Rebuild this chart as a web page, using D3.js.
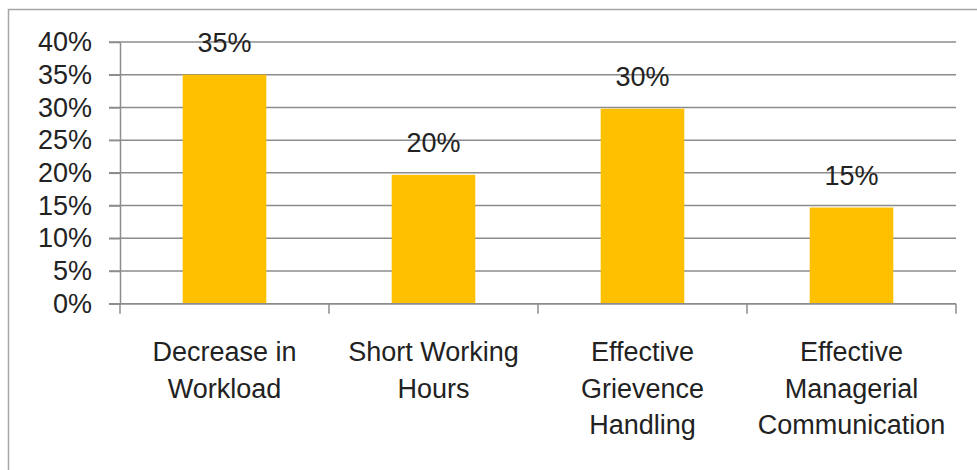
<!DOCTYPE html>
<html>
<head>
<meta charset="utf-8">
<script src="https://cdn.jsdelivr.net/npm/d3@7"></script>
<style>
  body { margin: 0; background: #fff; }
  svg text { font-family: "Liberation Sans", Arial, sans-serif; fill: #222; }
</style>
</head>
<body>
<script>
// chart data
let categories = [
  ['Decrease in', 'Workload'],
  ['Short Working', 'Hours'],
  ['Effective', 'Grievence', 'Handling'],
  ['Effective', 'Managerial', 'Communication']
];
let values = [0.35, 0.197, 0.298, 0.147];
let yTicks = [0, 0.05, 0.10, 0.15, 0.20, 0.25, 0.30, 0.35, 0.40];

let width = 977;
let height = 470;
let plotLeft = 120, plotRight = 956, plotTop = 42, plotBottom = 303.7;
let fontSize = 27;

let svg = d3.select('body').append('svg')
  .attr('width', width)
  .attr('height', height);

// outer frame
svg.append('rect')
  .attr('x', 8.5).attr('y', 9.5)
  .attr('width', width + 20).attr('height', height + 20)
  .attr('fill', 'none')
  .attr('stroke', '#a6a6a6')
  .attr('stroke-width', 1.5);

let keys = d3.range(categories.length);

let xScale = d3.scaleBand()
  .domain(keys)
  .range([plotLeft, plotRight])
  .paddingInner(0.6)
  .paddingOuter(0.3);

let yScale = d3.scaleLinear()
  .domain([0, 0.4])
  .range([plotBottom, plotTop]);

// gridlines (incl. the little tick out to the left)
svg.append('g')
  .selectAll('line')
  .data(yTicks)
  .enter()
  .append('line')
  .attr('x1', plotLeft - 11)
  .attr('x2', plotRight)
  .attr('y1', (d) => yScale(d))
  .attr('y2', (d) => yScale(d))
  .attr('stroke', '#8c8c8c')
  .attr('stroke-width', 1.5);

// y axis
let yAxis = d3.axisLeft(yScale)
  .tickValues(yTicks)
  .tickFormat(d3.format('.0%'))
  .tickSizeInner(11)
  .tickSizeOuter(0)
  .tickPadding(17);

let yG = svg.append('g')
  .attr('transform', 'translate(' + plotLeft + ', 0)')
  .call(yAxis);
yG.select('.domain').attr('stroke', '#8c8c8c').attr('stroke-width', 1.5);
yG.selectAll('.tick line').attr('stroke', '#8c8c8c').attr('stroke-width', 1.5);
yG.selectAll('.tick text')
  .attr('font-size', fontSize)
  .attr('font-family', '"Liberation Sans", Arial, sans-serif')
  .attr('fill', '#222');

// bars
svg.append('g')
  .selectAll('rect')
  .data(values)
  .enter()
  .append('rect')
  .attr('x', (d, i) => xScale(i))
  .attr('y', (d) => yScale(d))
  .attr('width', xScale.bandwidth())
  .attr('height', (d) => yScale(0) - yScale(d))
  .attr('fill', '#ffc000');

// value labels
svg.append('g')
  .selectAll('text')
  .data(values)
  .enter()
  .append('text')
  .attr('x', (d, i) => xScale(i) + xScale.bandwidth() / 2)
  .attr('y', (d) => yScale(d) - 23)
  .attr('text-anchor', 'middle')
  .attr('font-size', fontSize)
  .text((d) => d3.format('.0%')(d));

// x axis line + ticks at category boundaries
let xG = svg.append('g');
xG.append('line')
  .attr('x1', plotLeft).attr('x2', plotRight)
  .attr('y1', plotBottom).attr('y2', plotBottom)
  .attr('stroke', '#8c8c8c').attr('stroke-width', 1.5);
xG.selectAll('.xtick')
  .data(d3.range(categories.length + 1))
  .enter()
  .append('line')
  .attr('class', 'xtick')
  .attr('x1', (i) => plotLeft + i * xScale.step())
  .attr('x2', (i) => plotLeft + i * xScale.step())
  .attr('y1', plotBottom)
  .attr('y2', plotBottom + 10)
  .attr('stroke', '#8c8c8c').attr('stroke-width', 1.5);

// category labels
let catText = svg.append('g')
  .selectAll('text')
  .data(categories)
  .enter()
  .append('text')
  .attr('text-anchor', 'middle')
  .attr('font-size', fontSize)
  .attr('x', (d, i) => xScale(i) + xScale.bandwidth() / 2)
  .attr('y', 361);

catText.selectAll('tspan')
  .data((d) => d)
  .enter()
  .append('tspan')
  .attr('x', function() { return d3.select(this.parentNode).attr('x'); })
  .attr('dy', (d, i) => i === 0 ? 0 : 36.5)
  .text((d) => d);
</script>
</body>
</html>
